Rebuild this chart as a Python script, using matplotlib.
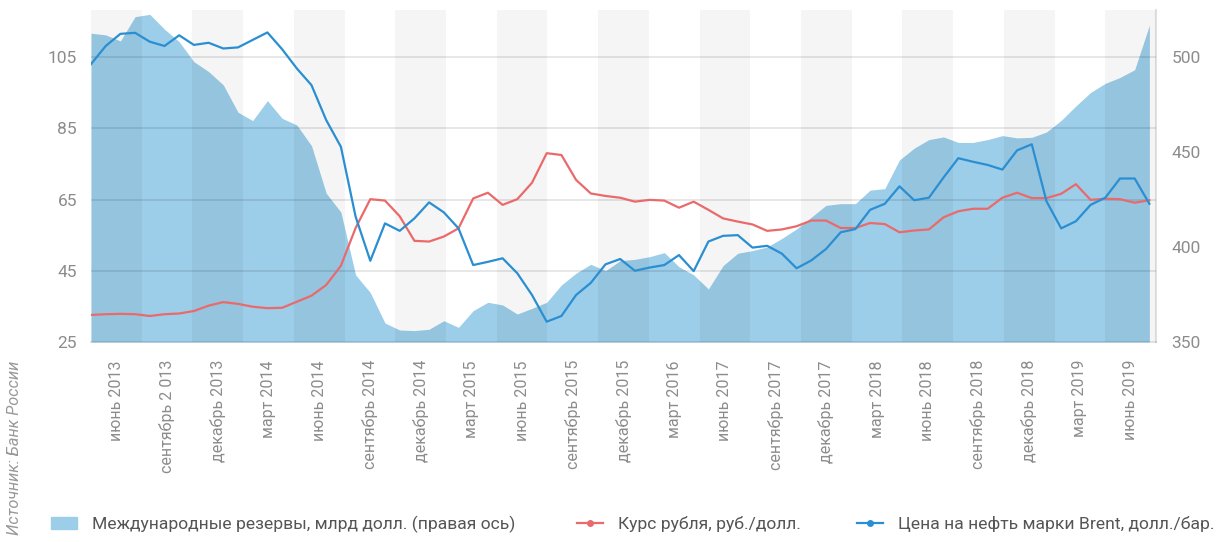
import numpy as np
import matplotlib.pyplot as plt
from matplotlib.lines import Line2D
from matplotlib.patches import Patch

plt.rcParams['font.family'] = ['Roboto', 'DejaVu Sans']

# подписи оси X (как в оригинале)
labels = ['июнь 2013', 'сентябрь 2 013', 'декабрь 2013', 'март 2014', 'июнь 2014',
          'сентябрь 2014', 'декабрь 2014', 'март 2015', 'июнь 2015', 'сентябрь 2015',
          'декабрь 2015', 'март 2016', 'июнь 2017', 'сентябрь 2017', 'декабрь 2017',
          'март 2018', 'июнь 2018', 'сентябрь 2018', 'декабрь 2018', 'март 2019', 'июнь 2019']

# цена Brent, долл./бар. (левая ось)
brent = [103.0, 108.1, 111.5, 111.8, 109.3, 108.1, 111.1, 108.4, 109.0, 107.4, 107.7,
         109.8, 111.9, 107.2, 101.8, 97.1, 87.3, 79.8, 60.2, 47.8, 58.3, 56.2,
         59.7, 64.2, 61.4, 56.9, 46.6, 47.5, 48.5, 44.3, 38.2, 30.7, 32.3, 38.2, 41.6,
         46.8, 48.3, 45.0, 45.9, 46.6, 49.4, 44.9, 53.2, 54.8, 55.0, 51.5, 52.0, 49.8,
         45.7, 47.9, 51.1, 55.8, 56.7, 62.1, 63.8, 68.7, 64.8, 65.5, 71.2, 76.6, 75.6,
         74.7, 73.4, 78.8, 80.5, 64.5, 56.9, 58.9, 63.5, 65.5, 70.9, 70.9, 63.8]

# курс рубля, руб./долл. (левая ось)
rub = [32.6, 32.8, 32.9, 32.8, 32.3, 32.8, 33.0, 33.7, 35.2, 36.2, 35.7, 34.9, 34.5,
       34.6, 36.3, 38.0, 41.0, 46.4, 57.0, 65.1, 64.7, 60.3,
       53.4, 53.2, 54.6, 56.9, 65.3, 66.9, 63.5, 65.1, 69.7, 78.0, 77.5, 70.5, 66.7,
       66.0, 65.5, 64.4, 64.9, 64.7, 62.7, 64.4, 62.1, 59.7, 58.8, 58.0, 56.2, 56.6,
       57.5, 59.1, 59.1, 57.0, 57.0, 58.4, 58.1, 55.8, 56.3, 56.6, 60.0, 61.7, 62.4,
       62.4, 65.5, 66.9, 65.4, 65.4, 66.6, 69.3, 64.9, 65.2, 65.1, 64.1, 64.8]

# международные резервы, млрд долл. (правая ось)
reserves = [512.5, 511.6, 508.4, 521.2, 522.4, 514.6, 508.0, 497.5, 492.3, 485.3, 470.9,
            466.5, 477.0, 467.7, 464.2, 453.3, 428.3, 418.3, 385.3, 376.0, 360.0, 356.3,
            356.0, 356.7, 361.2, 357.7, 366.5, 370.9, 369.5, 364.7, 367.7, 370.9, 380.0,
            386.2, 390.9, 387.5, 392.8, 393.5, 394.9, 397.0, 389.6, 385.3, 377.9, 390.2,
            396.7, 398.1, 400.0, 404.5,
            409.5, 415.7, 421.9, 422.8, 422.8, 429.9, 430.7, 445.8, 452.0, 456.5, 457.9,
            455.0, 455.0, 456.5, 458.6, 457.4, 457.7, 460.5, 466.6, 474.2, 481.3, 486.1,
            489.2, 493.3, 516.7]

red = '#ea6a6b'
blue = '#2a8fd2'
area = '#9ccde9'
grey = '#8c8c8c'

x = np.arange(len(brent))
xmax = 72.45
bw = xmax / len(labels)

fig = plt.figure(figsize=(12.17, 5.42), dpi=100)
ax = fig.add_axes([91 / 1217, 200 / 542, (1156 - 91) / 1217, 332 / 542])
ax2 = ax.twinx()
ax.set_zorder(ax2.get_zorder() + 1)
ax.patch.set_visible(False)

ax2.fill_between(x, 350, reserves, color=area, lw=0)
ax2.set_ylim(350, 524.7)
ax2.set_yticks([350, 400, 450, 500])

ax.set_xlim(0, xmax)
ax.set_ylim(25, 118.2)
ax.set_yticks([25, 45, 65, 85, 105])

for k in range(0, len(labels), 2):
    ax.axvspan(k * bw, (k + 1) * bw, color='black', alpha=0.04, lw=0, zorder=1)
for v in [45, 65, 85, 105]:
    ax.axhline(v, color='black', alpha=0.1, lw=1.3, zorder=2)

ax.plot(x, rub, color=red, lw=1.6, zorder=3)
ax.plot(x, brent, color=blue, lw=1.6, zorder=4)

ax.set_xticks([(k + 0.5) * bw for k in range(len(labels))])
ax.set_xticklabels(labels, rotation=90, va='top', ha='center')
ax.tick_params(axis='x', length=0, pad=13, labelsize=11.5, labelcolor=grey)
ax.tick_params(axis='y', length=0, pad=10, labelsize=12.5, labelcolor=grey)
ax2.tick_params(axis='y', length=0, pad=11, labelsize=12.5, labelcolor=grey)

for s in ['top', 'left', 'right']:
    ax.spines[s].set_visible(False)
ax.spines['bottom'].set_color((0, 0, 0, 0.1))
ax.spines['bottom'].set_linewidth(1.5)
for s in ['top', 'left', 'bottom']:
    ax2.spines[s].set_visible(False)
ax2.spines['right'].set_color('#e2e2e2')
ax2.spines['right'].set_linewidth(1.5)

# легенда
leg_items = [
    (Patch(color=area), 'Международные резервы, млрд долл. (правая ось)', 51),
    (Line2D([], [], color=red, lw=1.6, marker='o', markersize=4), 'Курс рубля, руб./долл.', 577),
    (Line2D([], [], color=blue, lw=1.6, marker='o', markersize=4), 'Цена на нефть марки Brent, долл./бар.', 857),
]
for h, t, px in leg_items:
    lg = fig.legend([h], [t], loc='center left', bbox_to_anchor=(px / 1217, 1 - 524 / 542),
                    frameon=False, fontsize=12.6, handlelength=1.5, handletextpad=0.85,
                    borderpad=0, borderaxespad=0)
    for txt in lg.get_texts():
        txt.set_color('#555555')

fig.text(15 / 1217, 1 - 448 / 542, 'Источник: Банк России', rotation=90, style='italic',
         color='#999999', fontsize=11.8, ha='center', va='center')

fig.savefig('out.png', dpi=100)
